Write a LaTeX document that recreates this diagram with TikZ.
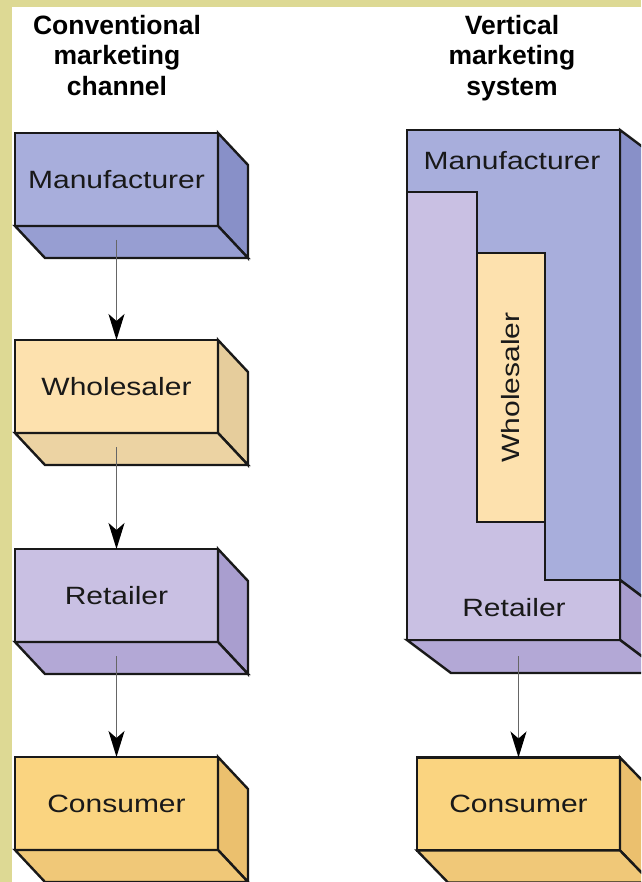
\documentclass[tikz,border=0pt]{standalone}
\usepackage{fontspec}
\setmainfont{Liberation Sans}
\newfontfamily\boxfont[FakeStretch=1.2]{Liberation Sans}
\usetikzlibrary{calc,arrows.meta,positioning}

\definecolor{band}{HTML}{DDD994}
\definecolor{mfront}{HTML}{A8AEDC}
\definecolor{mside}{HTML}{8890C8}
\definecolor{mbottom}{HTML}{979ED2}
\definecolor{wfront}{HTML}{FDE1AE}
\definecolor{wside}{HTML}{E6CD9C}
\definecolor{wbottom}{HTML}{ECD3A3}
\definecolor{rfront}{HTML}{C9C0E3}
\definecolor{rside}{HTML}{A99ECF}
\definecolor{rbottom}{HTML}{B3A8D6}
\definecolor{cfront}{HTML}{FAD480}
\definecolor{cside}{HTML}{EBC06E}
\definecolor{cbottom}{HTML}{F0C878}

\tikzset{
  edge/.style={draw=black!90, line width=2.4pt},
  face/.style={edge, minimum width=203pt, minimum height=93pt, inner sep=0pt, outer sep=0pt,
    font=\boxfont\fontsize{25}{30}\selectfont, text=black!90},
  flow/.style={line width=1.6pt, draw=black!60, -{Stealth[length=26pt,width=16pt,inset=7pt,color=black]}},
  title/.style={align=center, font=\bfseries\fontsize{26.5}{30.5}\selectfont, inner sep=0pt, anchor=north}
}

% side and bottom faces of a box: node, side colour, bottom colour, depth
\newcommand{\slabfaces}[5]{%
  \draw[edge, fill=#2] (#1.north east) -- ++(#4,#5) -- ($(#1.south east)+(#4,#5)$) -- (#1.south east) -- cycle;
  \draw[edge, fill=#3] (#1.south west) -- (#1.south east) -- ++(#4,#5) -- ($(#1.south west)+(#4,#5)$) -- cycle;
}

\begin{document}
\begin{tikzpicture}[x=1pt, y=-1pt]
  \useasboundingbox (0,0) rectangle (641,882);
  \clip (0,0) rectangle (641,882);
  \fill[band] (0,0) rectangle (641,882);
  \fill[white] (12,7) rectangle (641,882);

  % titles
  \node[title] (conv) at (117,15) {Conventional\\marketing\\channel};
  \node[title] (vert) at (512,15) {Vertical\\marketing\\system};

  % conventional channel
  \node[face, fill=mfront] (man) at (116.5,179.5) {Manufacturer};
  \slabfaces{man}{mside}{mbottom}{30}{32}
  \node[face, fill=wfront] (whole) at (116.5,386.5) {Wholesaler};
  \slabfaces{whole}{wside}{wbottom}{30}{32}
  \node[face, fill=rfront] (ret) at (116.5,595.5) {Retailer};
  \slabfaces{ret}{rside}{rbottom}{30}{32}
  \node[face, fill=cfront] (cons) at (116.5,803.5) {Consumer};
  \slabfaces{cons}{cside}{cbottom}{30}{32}

  \coordinate (mantail) at ($(man.south)+(0,14)$);
  \coordinate (wholetail) at ($(whole.south)+(0,14)$);
  \coordinate (rettail) at ($(ret.south)+(0,14)$);
  \draw[flow] (mantail) -- (whole.north);
  \draw[flow] (wholetail) -- (ret.north);
  \draw[flow] (rettail) -- (cons.north);

  % vertical system
  \draw[edge, fill=mside] (620,130) -- (664,163) -- (664,613) -- (620,580) -- cycle;
  \draw[edge, fill=rside] (620,580) -- (664,613) -- (664,673) -- (620,640) -- cycle;
  \draw[edge, fill=rbottom] (407,640) -- (620,640) -- (664,673) -- (451,673) -- cycle;
  \node[edge, fill=mfront, minimum width=213pt, minimum height=510pt, inner sep=0pt, outer sep=0pt] (vms) at (513.5,385) {};
  \draw[edge, fill=rfront] (407,192) -- (477,192) -- (477,253) -- (545,253) -- (545,580)
    -- (620,580) -- (620,640) -- (407,640) -- cycle;
  \node[edge, fill=wfront, rotate=90, minimum width=269pt, minimum height=68pt, inner sep=0pt,
    font=\boxfont\fontsize{25}{30}\selectfont, text=black!90] (vwhole) at (511,387.5) {Wholesaler};
  \node[font=\boxfont\fontsize{25}{30}\selectfont, text=black!90] (vman) at (512,161) {Manufacturer};
  \node[font=\boxfont\fontsize{25}{30}\selectfont, text=black!90] (vret) at (514,608) {Retailer};

  \node[face, fill=cfront] (vcons) at (518.5,804) {Consumer};
  \slabfaces{vcons}{cside}{cbottom}{31}{32}
  \coordinate (vmstail) at (518.5,656);
  \draw[flow] (vmstail) -- (vcons.north);
\end{tikzpicture}
\end{document}
